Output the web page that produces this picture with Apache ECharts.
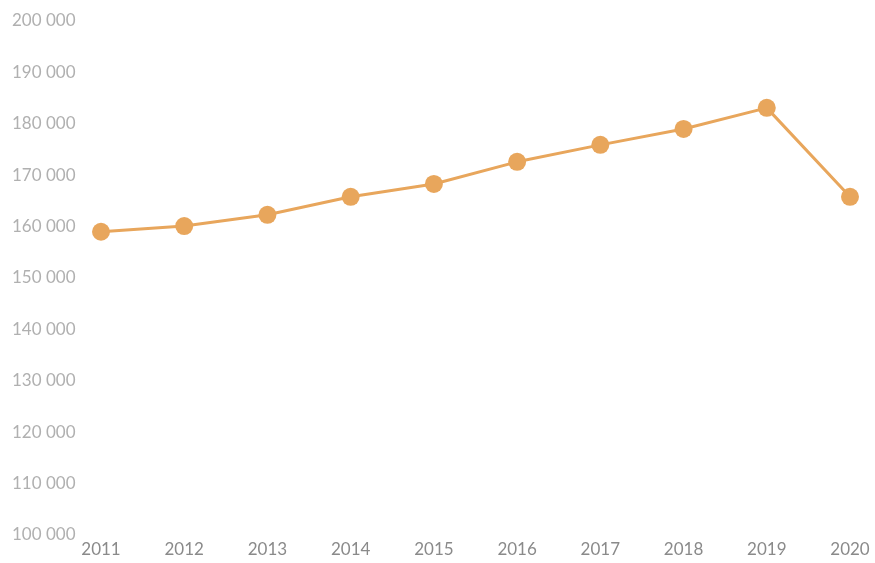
<!DOCTYPE html>
<html>
<head>
<meta charset="utf-8">
<script src="https://cdn.jsdelivr.net/npm/echarts@6/dist/echarts.min.js"></script>
<style>
  html, body { margin: 0; padding: 0; background: #fff; }
  #chart { width: 875px; height: 563px; }
</style>
</head>
<body>
<div id="chart"></div>
<script>
// categories and values
const years = ["2011", "2012", "2013", "2014", "2015", "2016", "2017", "2018", "2019", "2020"];
const values = [159000, 160100, 162300, 165800, 168300, 172600, 175900, 179000, 183100, 165800];

const chart = echarts.init(document.getElementById("chart"));

const option = {
  animation: false,
  grid: {
    left: 101,
    right: 25,
    top: 21,
    bottom: 28,
  },
  xAxis: {
    type: "category",
    data: years,
    boundaryGap: false,
    axisLine: { show: false },
    axisTick: { show: false },
    axisLabel: {
      color: "#8a8a8a",
      fontSize: 17,
      fontFamily: "Lato",
      margin: 6,
    },
  },
  yAxis: {
    type: "value",
    min: 100000,
    max: 200000,
    interval: 10000,
    splitLine: { show: false },
    axisLine: { show: false },
    axisTick: { show: false },
    axisLabel: {
      color: "#b0b0b0",
      fontSize: 17,
      fontFamily: "Lato",
      align: "left",
      margin: 89,
      padding: [5, 0, 0, 0],
      // 千位用空格分隔
      formatter: (v) => String(v).replace(/\B(?=(\d{3})+(?!\d))/g, " "),
    },
  },
  series: [
    {
      type: "line",
      data: values,
      symbol: "circle",
      symbolSize: 18,
      itemStyle: { color: "#e8a65c" },
      lineStyle: { color: "#e8a65c", width: 3 },
    },
  ],
};

chart.setOption(option);
</script>
</body>
</html>
